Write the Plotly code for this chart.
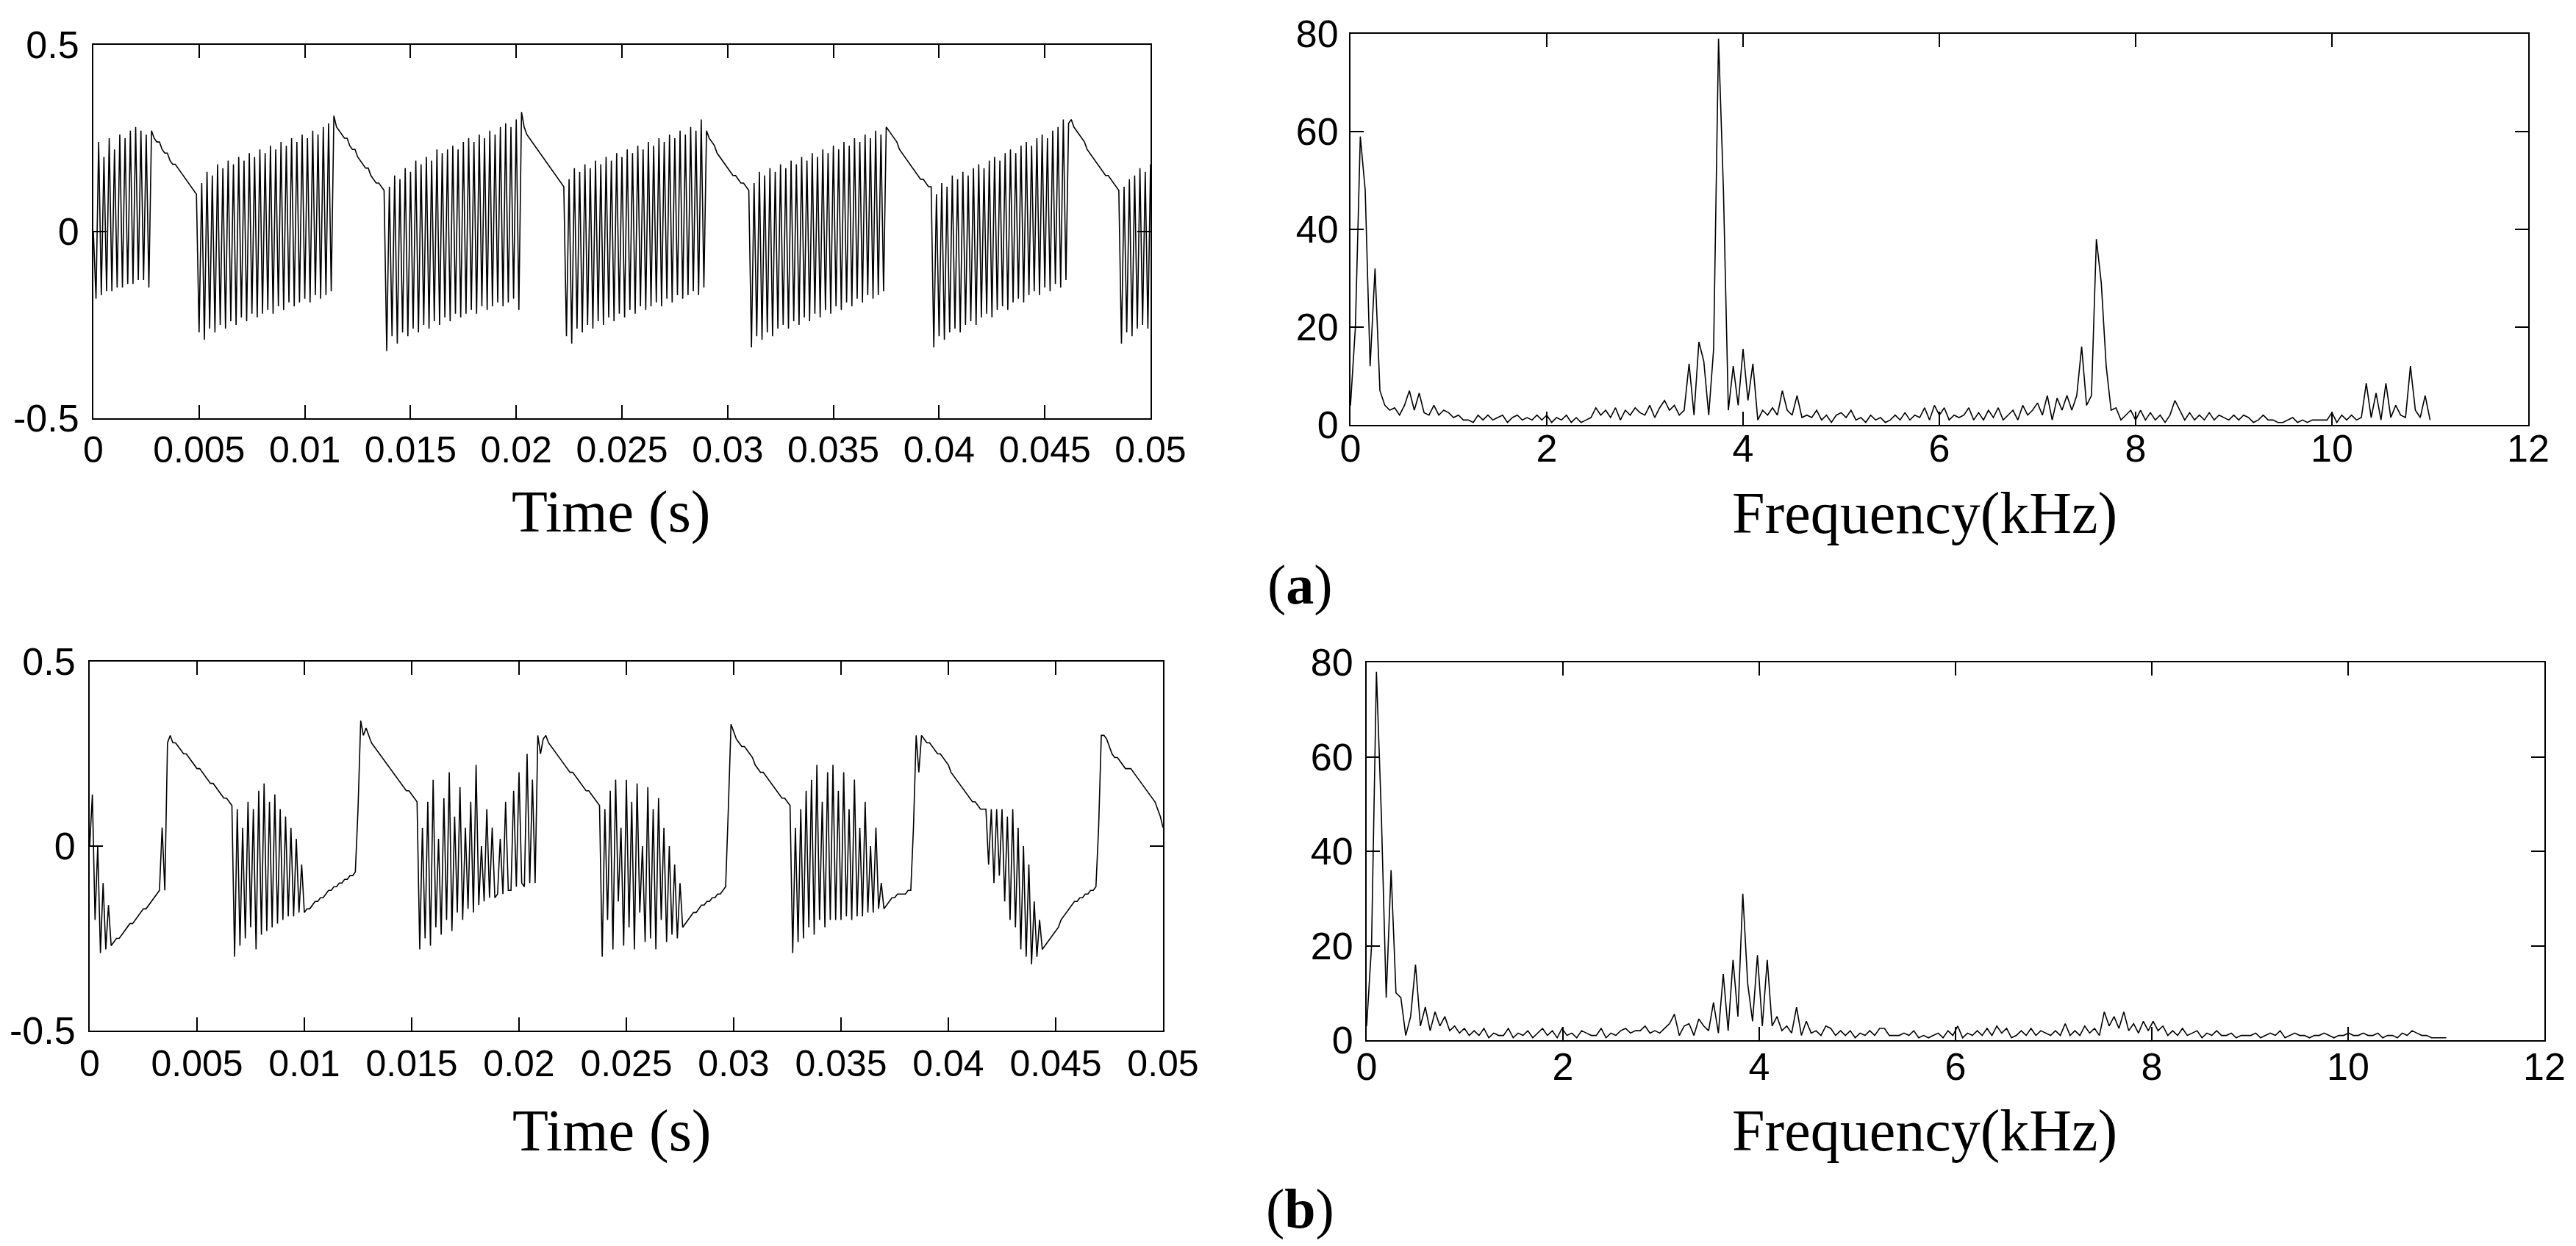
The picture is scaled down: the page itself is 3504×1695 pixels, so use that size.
import numpy as np
import plotly.graph_objects as go

W, H = 3504, 1695

# ---------------- data ----------------
# (a) time-domain signal, samples spread uniformly over 0 ... 0.05 s
sig_a = [
    0.0, -0.18, 0.24, -0.17, 0.2, -0.16, 0.25, -0.16, 0.22, -0.15, 0.26, -0.15, 0.25, -0.14, 0.27, -0.14, 0.28, -0.13, 0.27, -0.13, 0.26, -0.15, 0.27,
    0.25, 0.24, 0.24, 0.22, 0.21, 0.21, 0.19, 0.18, 0.18, 0.17, 0.16, 0.15, 0.14, 0.13, 0.12, 0.11, 0.1,
    -0.27, 0.13, -0.29, 0.16, -0.26, 0.15, -0.27, 0.18, -0.25, 0.17, -0.26, 0.19, -0.24, 0.18, -0.25, 0.2, -0.23, 0.19, -0.24, 0.21, -0.22, 0.2, -0.23, 0.22, -0.22, 0.21, -0.21, 0.23, -0.22, 0.22, -0.2, 0.24, -0.21, 0.23, -0.19, 0.25, -0.2, 0.24, -0.19, 0.26, -0.18, 0.25, -0.19, 0.27, -0.17, 0.26, -0.18, 0.28, -0.17, 0.29, -0.16, 0.31, 0.28,
    0.27, 0.26, 0.25, 0.25, 0.23, 0.22, 0.22, 0.2, 0.19, 0.18, 0.17, 0.17, 0.15, 0.14, 0.13, 0.13, 0.12, 0.11,
    -0.32, 0.12, -0.28, 0.15, -0.3, 0.14, -0.27, 0.17, -0.28, 0.16, -0.26, 0.19, -0.27, 0.18, -0.25, 0.2, -0.26, 0.19, -0.24, 0.22, -0.25, 0.21, -0.23, 0.22, -0.24, 0.23, -0.22, 0.22, -0.23, 0.24, -0.22, 0.25, -0.21, 0.24, -0.22, 0.26, -0.2, 0.25, -0.21, 0.27, -0.2, 0.26, -0.19, 0.28, -0.2, 0.29, -0.19, 0.28, -0.18, 0.3, -0.21, 0.32,
    0.28, 0.26, 0.25, 0.24, 0.23, 0.22, 0.21, 0.2, 0.19, 0.18, 0.17, 0.16, 0.15, 0.14, 0.13, 0.12,
    -0.28, 0.14, -0.3, 0.17, -0.26, 0.16, -0.27, 0.18, -0.25, 0.17, -0.26, 0.19, -0.24, 0.18, -0.25, 0.2, -0.23, 0.19, -0.24, 0.21, -0.22, 0.2, -0.23, 0.22, -0.21, 0.21, -0.22, 0.23, -0.2, 0.22, -0.21, 0.24, -0.2, 0.23, -0.19, 0.25, -0.2, 0.24, -0.18, 0.26, -0.19, 0.25, -0.17, 0.27, -0.18, 0.26, -0.17, 0.28, -0.16, 0.27, -0.17, 0.3, -0.15, 0.27,
    0.25, 0.24, 0.23, 0.21, 0.2, 0.19, 0.18, 0.17, 0.16, 0.15, 0.15, 0.14, 0.13, 0.13, 0.12, 0.11,
    -0.31, 0.13, -0.28, 0.16, -0.29, 0.15, -0.27, 0.17, -0.28, 0.16, -0.26, 0.18, -0.25, 0.17, -0.26, 0.19, -0.24, 0.18, -0.25, 0.2, -0.23, 0.19, -0.24, 0.21, -0.22, 0.2, -0.23, 0.22, -0.21, 0.21, -0.22, 0.23, -0.2, 0.22, -0.21, 0.24, -0.19, 0.23, -0.2, 0.25, -0.18, 0.24, -0.19, 0.26, -0.17, 0.25, -0.18, 0.27, -0.17, 0.26, -0.16, 0.28,
    0.27, 0.26, 0.25, 0.24, 0.22, 0.21, 0.2, 0.19, 0.18, 0.17, 0.16, 0.15, 0.14, 0.14, 0.13, 0.12, 0.12,
    -0.31, 0.1, -0.28, 0.13, -0.29, 0.12, -0.27, 0.15, -0.26, 0.14, -0.27, 0.16, -0.25, 0.15, -0.24, 0.17, -0.25, 0.18, -0.23, 0.17, -0.22, 0.19, -0.23, 0.2, -0.21, 0.19, -0.2, 0.21, -0.21, 0.22, -0.19, 0.21, -0.18, 0.23, -0.19, 0.24, -0.17, 0.23, -0.16, 0.25, -0.17, 0.26, -0.15, 0.25, -0.16, 0.27, -0.14, 0.28, -0.15, 0.3, -0.13, 0.29,
    0.3, 0.28, 0.27, 0.26, 0.25, 0.24, 0.22, 0.21, 0.2, 0.19, 0.18, 0.17, 0.16, 0.15, 0.15, 0.14, 0.13, 0.12, 0.11,
    -0.3, 0.12, -0.27, 0.14, -0.28, 0.15, -0.26, 0.17, -0.25, 0.16, -0.26, 0.18,
]

# (b) time-domain signal, samples spread uniformly over 0 ... 0.05 s
sig_b = [
    0.0, 0.14, -0.2, 0.0, -0.29, -0.1, -0.28, -0.16, -0.27,
    -0.26, -0.25, -0.25, -0.24, -0.23, -0.22, -0.21, -0.21, -0.2, -0.19, -0.18, -0.17, -0.17, -0.16, -0.15, -0.14, -0.13, -0.12,
    0.05, -0.12, 0.28, 0.3,
    0.28, 0.28, 0.27, 0.26, 0.25, 0.25, 0.24, 0.23, 0.22, 0.21, 0.21, 0.2, 0.19, 0.18, 0.17, 0.17, 0.16, 0.15, 0.14, 0.13, 0.13, 0.12, 0.11,
    -0.3, 0.1, -0.27, 0.05, -0.25, 0.12, -0.22, 0.1, -0.28, 0.15, -0.24, 0.17, -0.23, 0.12, -0.22, 0.14, -0.21, 0.1, -0.2, 0.08, -0.19, 0.05, -0.19, 0.02, -0.18, -0.05, -0.18,
    -0.17, -0.17, -0.16, -0.15, -0.15, -0.14, -0.14, -0.13, -0.12, -0.12, -0.11, -0.11, -0.1, -0.1, -0.09, -0.09, -0.08, -0.08, -0.07,
    0.1, 0.34, 0.3,
    0.32, 0.3, 0.28, 0.27, 0.26, 0.25, 0.24, 0.23, 0.22, 0.21, 0.2, 0.19, 0.18, 0.17, 0.16, 0.15, 0.15, 0.14, 0.13, 0.12,
    -0.28, 0.05, -0.25, 0.12, -0.27, 0.18, -0.22, 0.02, -0.24, 0.13, -0.2, 0.2, -0.23, 0.08, -0.18, 0.16, -0.2, 0.05, -0.17, 0.12, -0.18, 0.22, -0.16, 0.0, -0.15, 0.1, -0.14, 0.05,
    -0.14, -0.13, 0.02, -0.13, 0.12, -0.12, -0.12, 0.15, -0.11, 0.2, -0.1, -0.11, 0.25, -0.1, 0.18, -0.1, 0.3, 0.25, 0.29,
    0.3, 0.28, 0.27, 0.26, 0.25, 0.24, 0.23, 0.22, 0.21, 0.2, 0.2, 0.19, 0.18, 0.17, 0.16, 0.15, 0.15, 0.14, 0.13, 0.12, 0.11,
    -0.3, 0.1, -0.2, 0.15, -0.28, 0.18, -0.15, 0.05, -0.27, 0.18, -0.22, 0.12, -0.28, 0.17, -0.18, 0.0, -0.26, 0.16, -0.25, 0.1, -0.28, 0.13, -0.2, 0.05, -0.26, 0.0, -0.24, -0.05, -0.25, -0.1, -0.22,
    -0.21, -0.2, -0.19, -0.18, -0.18, -0.17, -0.16, -0.16, -0.15, -0.15, -0.14, -0.14, -0.13, -0.13, -0.12, -0.11,
    0.1, 0.33,
    0.31, 0.29, 0.28, 0.27, 0.27, 0.26, 0.25, 0.24, 0.22, 0.21, 0.2, 0.2, 0.19, 0.18, 0.17, 0.16, 0.15, 0.14, 0.13, 0.13, 0.12, 0.11,
    -0.29, 0.05, -0.26, 0.1, -0.25, 0.15, -0.22, 0.18, -0.24, 0.22, -0.2, 0.12, -0.22, 0.2, -0.2, 0.22, -0.2, 0.15, -0.2, 0.2, -0.19, 0.1, -0.2, 0.18, -0.19, 0.05, -0.19, 0.12, -0.18, 0.0, -0.18, 0.05, -0.17, -0.1,
    -0.17, -0.16, -0.15, -0.14, -0.14, -0.13, -0.13, -0.13, -0.13, -0.12, -0.12,
    0.05, 0.3, 0.2, 0.3,
    0.29, 0.28, 0.28, 0.27, 0.26, 0.25, 0.25, 0.24, 0.23, 0.22, 0.2, 0.19, 0.18, 0.17, 0.16, 0.15, 0.14, 0.13, 0.12, 0.12, 0.11, 0.1, 0.1, 0.1,
    -0.05, 0.1, -0.1, 0.1, -0.08, 0.1, -0.15, 0.08, -0.2, 0.1, -0.22, 0.05, -0.28, 0.0, -0.3, -0.05, -0.32, -0.15, -0.3, -0.2, -0.28, -0.27,
    -0.26, -0.25, -0.24, -0.23, -0.22, -0.2, -0.19, -0.18, -0.17, -0.16, -0.15, -0.15, -0.14, -0.14, -0.13, -0.13, -0.12, -0.12, -0.11,
    0.05, 0.3, 0.3,
    0.29, 0.27, 0.25, 0.24, 0.24, 0.23, 0.22, 0.21, 0.21, 0.21, 0.2, 0.19, 0.18, 0.17, 0.16, 0.15, 0.14, 0.13, 0.12, 0.1, 0.08, 0.05,
]

# (a) magnitude spectrum, bins spread uniformly over 0 ... 11 kHz (0.05 kHz apart)
spec_a = [
    4, 20, 59, 48, 12, 32, 7, 4, 3, 3.5, 2, 4, 7, 3, 6.5, 2.5, 2, 4, 2, 3,
    2.5, 1.5, 2, 1, 1, 0.5, 2, 1, 2, 1, 1.5, 2, 0.5, 1.5, 2, 1, 1.5, 1, 2, 1,
    2, 0.5, 1.5, 1, 2, 0.5, 1.5, 0.5, 1, 1.5, 3.5, 2, 3, 1.5, 3.5, 1, 3, 2, 3.5, 2.5,
    2, 4, 1.5, 3.5, 5, 3, 4, 2, 3, 12.5, 2, 17, 13, 2, 15.5, 79, 48, 3, 12, 4,
    15.5, 5, 12.5, 1, 3, 2, 3.5, 2, 7, 3, 2, 6, 1.5, 2, 1.5, 3, 1, 2, 0.5, 2,
    2.5, 1.5, 3, 1, 1.5, 0.5, 2, 1, 1.5, 0.5, 1, 2, 1, 2.5, 1, 2, 1.5, 3.5, 1, 4,
    2, 3.5, 1, 2, 1.5, 2, 3.5, 1, 2.5, 1, 3, 1.5, 3.5, 1, 2, 3, 1, 4, 2, 3,
    4.5, 2, 6, 1, 5.5, 3, 6, 3, 6, 16, 4, 6, 38, 29, 12, 3, 3.5, 1, 2, 3,
    1, 3, 1, 2.5, 1, 2, 0.5, 2, 5, 3, 1, 2.5, 1, 2, 1, 2.5, 1, 2, 1.5, 1,
    2, 1, 2, 1.5, 0.5, 1, 2, 1, 1, 0.5, 0.5, 1, 1.5, 0.5, 1, 0.5, 1, 1, 1, 1,
    2.5, 0.5, 2, 1, 2, 1, 1.5, 8.5, 1.5, 6.5, 1, 8.5, 1.5, 4, 2, 1.5, 12, 3, 1.5, 6,
    1,
]

# (b) magnitude spectrum, bins spread uniformly over 0 ... 11 kHz (0.05 kHz apart)
spec_b = [
    3, 20, 78, 48, 9, 36, 10, 9, 1, 5, 16, 3, 7, 2, 6, 3, 5, 2, 3, 1.5,
    2.5, 1, 2, 1, 2.5, 0.5, 1.5, 1, 1, 2.5, 0.5, 1.5, 1, 2, 0.5, 1.5, 2.5, 1, 2, 0.5,
    2.5, 1, 1.5, 0.5, 2, 1.5, 1, 1, 2.5, 0.5, 1.5, 1, 2, 2.5, 1.5, 2, 2, 3, 1.5, 2,
    1.5, 2.5, 3.5, 5.5, 1, 3, 3.5, 1, 4.5, 3, 2, 8, 1.5, 14, 2, 17, 5, 31, 12, 4, 18,
    3, 17, 3, 5, 2, 3, 1.5, 7, 1, 4, 1.5, 2, 1, 3, 2.5, 1, 2, 1, 2, 0.5,
    1.5, 1, 2, 1, 2.5, 2.5, 1, 1, 1, 1.5, 1, 2, 0.5, 1, 0.5, 1, 1.5, 0.5, 2, 1,
    3, 0.5, 1.5, 1, 2, 1, 2.5, 1, 3, 1.5, 2.5, 0.5, 1, 2, 1, 2.5, 1, 2, 1.5, 1,
    2, 1, 3.5, 1, 2, 1, 3, 1.5, 2.5, 1, 6, 3, 5, 2.5, 6, 2, 3.5, 1.5, 4, 2,
    4, 2, 3, 1, 2, 1, 2.5, 1, 1.5, 2, 0.5, 1.5, 1, 2, 1, 1, 1.5, 0.5, 1, 1,
    1, 1.5, 0.5, 1, 1.5, 1, 2, 0.5, 1, 1.5, 1, 1, 0.5, 1, 1, 1.5, 1, 0.5, 1, 1,
    1.5, 1, 1, 1.5, 1, 1, 1.5, 0.5, 1, 1, 0.5, 1.5, 1, 2, 1.5, 1, 1, 0.5, 0.5, 0.5,
    0.5,
]

time_ticks = [0, 0.005, 0.01, 0.015, 0.02, 0.025, 0.03, 0.035, 0.04, 0.045, 0.05]
time_labels = ["0", "0.005", "0.01", "0.015", "0.02", "0.025", "0.03", "0.035", "0.04", "0.045", "0.05"]
amp_ticks = [-0.5, 0, 0.5]
amp_labels = ["-0.5", "0", "0.5"]
freq_ticks = [0, 2, 4, 6, 8, 10, 12]
freq_labels = ["0", "2", "4", "6", "8", "10", "12"]
mag_ticks = [0, 20, 40, 60, 80]
mag_labels = ["0", "20", "40", "60", "80"]

t_a = np.linspace(0, 0.05, len(sig_a))
t_b = np.linspace(0, 0.05, len(sig_b))
f_a = np.linspace(0, 11, len(spec_a))
f_b = np.linspace(0, 11, len(spec_b))

# ---------------- layout helpers ----------------
SANS = "Liberation Sans Narrow, Arial Narrow, Liberation Sans, Arial, sans-serif"
SERIF = "Liberation Serif, Times New Roman, serif"


def px_x(p):
    return p / W


def px_y(p):
    return 1 - p / H


def axis(dom, rng, tv, tt, standoff, size):
    return dict(domain=dom, range=rng, tickmode="array", tickvals=tv, ticktext=tt,
                ticks="inside", ticklen=18, tickwidth=2, tickcolor="black",
                showline=True, linecolor="black", linewidth=2, mirror="ticks",
                showgrid=False, zeroline=False, automargin=False,
                tickfont=dict(family=SANS, size=size, color="black"),
                ticklabelstandoff=standoff, fixedrange=True)


fig = go.Figure()
line = dict(color="black", width=1.6)
fig.add_trace(go.Scatter(x=t_a, y=sig_a, mode="lines", line=line, xaxis="x", yaxis="y"))
fig.add_trace(go.Scatter(x=f_a, y=spec_a, mode="lines", line=line, xaxis="x2", yaxis="y2"))
fig.add_trace(go.Scatter(x=t_b, y=sig_b, mode="lines", line=line, xaxis="x3", yaxis="y3"))
fig.add_trace(go.Scatter(x=f_b, y=spec_b, mode="lines", line=line, xaxis="x4", yaxis="y4"))

fig.update_layout(
    template="none",
    width=W, height=H, margin=dict(l=0, r=0, t=0, b=0, pad=0, autoexpand=False),
    paper_bgcolor="white", plot_bgcolor="white", showlegend=False,
    xaxis=axis([px_x(119), px_x(1557)], [0, 0.05], time_ticks, time_labels, -2, 50),
    yaxis=axis([px_y(561), px_y(53)], [-0.5, 0.5], amp_ticks, amp_labels, 7, 52),
    xaxis2=axis([px_x(1829), px_x(3431)], [0, 12], freq_ticks, freq_labels, -14, 52),
    yaxis2=axis([px_y(570), px_y(38)], [0, 80], mag_ticks, mag_labels, 4, 52),
    xaxis3=axis([px_x(114), px_x(1574)], [0, 0.05], time_ticks, time_labels, 0, 50),
    yaxis3=axis([px_y(1394), px_y(892)], [-0.5, 0.5], amp_ticks, amp_labels, 7, 52),
    xaxis4=axis([px_x(1851), px_x(3453)], [0, 12], freq_ticks, freq_labels, -10, 52),
    yaxis4=axis([px_y(1407), px_y(893)], [0, 80], mag_ticks, mag_labels, 6, 52),
)
fig.layout.xaxis.anchor = "y"
fig.layout.yaxis.anchor = "x"
fig.layout.xaxis2.anchor = "y2"
fig.layout.yaxis2.anchor = "x2"
fig.layout.xaxis3.anchor = "y3"
fig.layout.yaxis3.anchor = "x3"
fig.layout.xaxis4.anchor = "y4"
fig.layout.yaxis4.anchor = "x4"

labels = [
    ("Time (s)", 823, 688),
    ("Frequency(kHz)", 2610, 690),
    ("Time (s)", 824, 1530),
    ("Frequency(kHz)", 2610, 1530),
]
for txt, x, y in labels:
    fig.add_annotation(text=txt, x=px_x(x), y=px_y(y), xref="paper", yref="paper",
                       xanchor="center", yanchor="middle", showarrow=False,
                       font=dict(family=SERIF, size=80, color="black"))
for txt, x, y in [("(<b>a</b>)", 1760, 788), ("(<b>b</b>)", 1760, 1636)]:
    fig.add_annotation(text=txt, x=px_x(x), y=px_y(y), xref="paper", yref="paper",
                       xanchor="center", yanchor="middle", showarrow=False,
                       font=dict(family=SERIF, size=76, color="black"))

fig.write_html("out.html")
